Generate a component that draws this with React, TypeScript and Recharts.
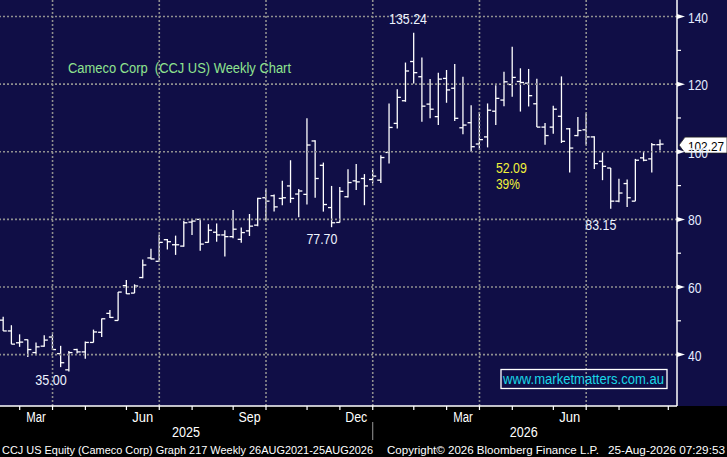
import React from 'react'
import { ComposedChart, Bar, XAxis, YAxis, ReferenceLine, ReferenceDot } from 'recharts'

// weekly OHLC, Feb 2025 -> Aug 2026
const opens = [
  50.2, 47.0, 43.5, 44.4, 40.6, 42.5, 45.2, 40.3, 35.5, 41.5, 40.8, 43.6, 46.6, 52.2, 50.1, 60.4, 58.2, 62.8, 68.6, 67.6,
  74.0, 72.5, 72.1, 79.2, 80.0, 73.2, 76.2, 75.4, 74.9, 74.1, 76.6, 78.3, 86.4, 87.0, 86.2, 89.9, 87.5, 87.4, 103.2, 96.0,
  83.5, 79.1, 86.7, 91.4, 92.1, 91.8, 91.6, 99.8, 108.4, 115.1, 126.7, 122.2, 114.1, 110.4, 121.7, 118.8, 107.1, 108.6, 102.3, 104.4,
  112.0, 115.3, 119.9, 120.8, 120.3, 114.2, 107.3, 107.3, 110.5, 106.8, 104.8, 106.5, 104.4, 97.2, 95.2, 85.4, 90.6, 85.4, 98.2, 97.9,
  102.1,
]
const highs = [
  51.2, 48.7, 46.0, 44.5, 43.6, 45.7, 46.0, 42.6, 41.1, 41.7, 43.9, 47.4, 50.7, 53.2, 58.5, 62.1, 60.8, 68.1, 71.3, 75.5,
  74.2, 75.2, 79.6, 79.8, 80.0, 78.6, 78.8, 76.8, 82.8, 77.6, 81.6, 86.4, 88.9, 87.4, 91.4, 97.5, 89.0, 109.9, 103.4, 96.8,
  89.9, 89.6, 94.8, 96.4, 93.4, 94.8, 99.0, 114.3, 118.5, 126.4, 135.24, 127.9, 121.5, 123.4, 124.2, 126.0, 122.2, 113.8, 111.8, 114.3,
  119.7, 123.7, 131.1, 124.7, 124.5, 121.6, 108.5, 113.6, 122.3, 107.0, 110.3, 111.4, 104.6, 99.8, 95.2, 92.0, 91.8, 97.9, 100.1, 102.6,
  103.6,
]
const lows = [
  47.0, 43.1, 42.3, 39.3, 39.8, 42.3, 41.5, 36.3, 35.0, 40.3, 38.8, 43.6, 45.2, 50.8, 50.1, 57.9, 58.2, 62.6, 68.1, 67.4,
  71.1, 69.5, 71.9, 75.4, 70.7, 73.1, 73.4, 69.0, 74.4, 73.1, 75.1, 78.0, 79.3, 82.3, 84.2, 84.9, 80.6, 84.4, 86.4, 82.3,
  77.7, 79.1, 86.5, 88.7, 84.2, 90.6, 90.8, 96.5, 106.9, 114.8, 120.2, 108.9, 109.9, 107.9, 114.5, 109.1, 105.2, 100.0, 101.0, 101.3,
  107.9, 113.5, 116.3, 111.9, 113.4, 107.3, 102.1, 105.3, 102.6, 93.9, 104.6, 102.1, 94.9, 91.6, 83.15, 85.1, 83.7, 85.4, 97.2, 93.9,
  100.4,
]
const closes = [
  47.0, 43.1, 43.7, 41.5, 42.3, 44.3, 41.5, 37.6, 40.6, 40.8, 43.6, 46.7, 50.6, 51.0, 58.5, 58.0, 60.3, 66.5, 68.3, 73.2,
  73.4, 72.5, 79.0, 79.5, 72.7, 76.8, 75.4, 74.9, 77.1, 76.1, 78.0, 86.2, 85.4, 83.7, 86.4, 86.2, 88.4, 102.0, 92.1, 84.4,
  79.0, 88.3, 90.9, 91.1, 89.9, 92.8, 98.3, 107.2, 116.1, 123.9, 123.4, 113.5, 112.6, 121.5, 118.3, 109.9, 107.9, 101.5, 103.6, 112.3,
  115.8, 120.7, 122.0, 120.5, 116.6, 107.3, 104.8, 112.6, 103.1, 101.1, 106.3, 104.4, 96.5, 95.7, 85.4, 87.8, 86.4, 97.5, 97.5, 102.1,
  102.27,
]

// time axis, in week index
const monthTicks = [2, 6, 10, 15, 19, 23, 28, 32, 37, 41, 45, 50, 54, 58, 62, 67, 71, 75, 81]
const monthLabels = [
  { at: 4, text: 'Mar' },
  { at: 17, text: 'Jun' },
  { at: 30, text: 'Sep' },
  { at: 43, text: 'Dec' },
  { at: 56, text: 'Mar' },
  { at: 69, text: 'Jun' },
]
const yearLabels = [
  { at: 22.25, text: '2025' },
  { at: 63.4, text: '2026' },
]
const yearBreak = 45
const quarterLines = [6, 19, 32, 45, 58, 71]

const priceGrid = [40, 60, 80, 100, 120, 140]
const priceTicks = [40, 50, 60, 70, 80, 90, 100, 110, 120, 130, 140]
const lastPrice = 102.27

// swing highs / lows
const callouts = [
  { i: 51, v: 135.24, text: '135.24' },
  { i: 41, v: 77.7, text: '77.70' },
  { i: 8, v: 35.0, text: '35.00' },
  { i: 74, v: 83.15, text: '83.15' },
]
const moveLabel = { i: 60, v: 100, lines: ['52.09', '39%'] }

const NAVY = '#100e46'
const GRID = '#8f8f8f'
const AXIS_TXT = '#e4ecff'
const SANS = "'Liberation Sans', Arial, sans-serif"

const calloutOffset: Record<string, [number, number]> = {
  '135.24': [-14, -9],
  '77.70': [-18, 17],
  '35.00': [-18, 13],
  '83.15': [-10, 21],
}
// rendered widths of the condensed Bloomberg face
const textWidth: Record<string, number> = {
  '135.24': 38, '77.70': 31, '35.00': 31.5, '83.15': 31, '52.09': 31, '39%': 24,
  Mar: 19.5, Jun: 21, Sep: 22, Dec: 22, '2025': 28, '2026': 28,
}

const rows = opens.map((o, i) => ({ i, open: o, high: highs[i], low: lows[i], close: closes[i] }))
const xMax = 82.06

function OhlcShape(props: any) {
  const { x, y, width, height, payload } = props
  const top = Math.min(y, y + height)
  const span = Math.abs(height)
  const cx = x + width / 2
  const { high, low, open, close } = payload
  const toY = (v: number) => (high === low ? top : top + (span * (high - v)) / (high - low))
  return (
    <g stroke="#fff" strokeWidth={1.3}>
      <line x1={cx} x2={cx} y1={top} y2={top + span} />
      <line x1={cx - 3.6} x2={cx} y1={toY(open)} y2={toY(open)} />
      <line x1={cx} x2={cx + 3.6} y1={toY(close)} y2={toY(close)} />
    </g>
  )
}

function TimeTick(props: any) {
  const { x, y, payload } = props
  const v = payload.value
  const month = monthLabels.find(m => m.at === v)
  const year = yearLabels.find(m => m.at === v)
  return (
    <g>
      {monthTicks.includes(v) && <line x1={x} x2={x} y1={y} y2={y + 4} stroke="#fff" strokeWidth={1.2} />}
      {v === yearBreak && <line x1={x} x2={x} y1={y + 16} y2={y + 34} stroke="#9a9a9a" strokeWidth={1} />}
      {month && (
        <text x={x} y={y + 15.5} textAnchor="middle" fill="#fff" fontSize={14} fontFamily={SANS}
          textLength={textWidth[month.text]} lengthAdjust="spacingAndGlyphs">
          {month.text}
        </text>
      )}
      {year && (
        <text x={x} y={y + 31} textAnchor="middle" fill="#fff" fontSize={14} fontFamily={SANS}
          textLength={textWidth[year.text]} lengthAdjust="spacingAndGlyphs">
          {year.text}
        </text>
      )}
    </g>
  )
}

function PriceTick(props: any) {
  const { x, y, payload } = props
  const v = payload.value
  if (v % 20 !== 0) return <line x1={x} x2={x + 4} y1={y} y2={y} stroke="#fff" strokeWidth={1.2} />
  return (
    <g>
      <path d={`M${x},${y - 2.5} L${x + 8},${y} L${x},${y + 2.5} Z`} fill="#fff" />
      <text x={x + 11} y={y + 6} fill={AXIS_TXT} fontSize={14} fontFamily={SANS}
        textLength={v >= 100 ? 20 : 13.5} lengthAdjust="spacingAndGlyphs">
        {v}
      </text>
    </g>
  )
}

function LastPriceTag(props: any) {
  const { cx, cy } = props
  const tip = cx + 2
  return (
    <g>
      <path
        d={`M${tip},${cy + 1} L${tip + 6},${cy - 7} L${tip + 48},${cy - 7} L${tip + 48},${cy + 9} L${tip + 6},${cy + 9} Z`}
        fill="#fff"
        stroke="#222"
        strokeWidth={0.8}
      />
      <text x={tip + 9} y={cy + 6.5} fill="#000" fontSize={13.5} fontFamily={SANS}
        textLength={36} lengthAdjust="spacingAndGlyphs">
        {lastPrice.toFixed(2)}
      </text>
    </g>
  )
}

export default function App() {
  return (
    <div style={{ position: 'fixed', left: 0, top: 0, width: 727, height: 457, background: '#000' }}>
      <div style={{ position: 'absolute', left: 0, top: 0, width: 727, height: 406, background: NAVY }} />
      <div style={{ position: 'absolute', left: 0, top: 0 }}>
        <ComposedChart width={727} height={457} data={rows} margin={{ top: 0, right: 0, bottom: 0, left: 0 }}>
          <XAxis
            dataKey="i"
            type="number"
            domain={[-0.4, xMax]}
            allowDataOverflow
            ticks={[...monthTicks, ...monthLabels.map(m => m.at), ...yearLabels.map(m => m.at)]}
            interval={0}
            height={51}
            tickLine={false}
            tickSize={0}
            tickMargin={0}
            axisLine={{ stroke: '#fff', strokeWidth: 1.5 }}
            tick={<TimeTick />}
          />
          <YAxis
            orientation="right"
            width={50}
            domain={[24.8, 144.9]}
            allowDataOverflow
            ticks={priceTicks}
            interval={0}
            tickLine={false}
            tickSize={0}
            tickMargin={0}
            axisLine={{ stroke: '#fff', strokeWidth: 1.5 }}
            tick={<PriceTick />}
          />
          {priceGrid.map(v => (
            <ReferenceLine key={'h' + v} y={v} stroke={GRID} strokeWidth={1.6} strokeDasharray="2 2" />
          ))}
          {quarterLines.map(v => (
            <ReferenceLine key={'v' + v} x={v} stroke={GRID} strokeWidth={1.6} strokeDasharray="2 2" />
          ))}
          <Bar
            dataKey={(d: any) => [d.low, d.high]}
            barSize={6}
            shape={<OhlcShape />}
            isAnimationActive={false}
          />
          {callouts.map(c => (
            <ReferenceDot
              key={c.text}
              x={c.i}
              y={c.v}
              r={0}
              shape={(p: any) => (
                <text
                  x={p.cx + calloutOffset[c.text][0]}
                  y={p.cy + calloutOffset[c.text][1]}
                  textAnchor="middle"
                  fill="#eef4ff"
                  fontSize={14.5}
                  fontFamily={SANS}
                  textLength={textWidth[c.text]}
                  lengthAdjust="spacingAndGlyphs"
                >
                  {c.text}
                </text>
              )}
            />
          ))}
          <ReferenceDot
            x={moveLabel.i}
            y={moveLabel.v}
            r={0}
            shape={(p: any) => (
              <g fill="#f2f23a" fontSize={14.5} fontFamily={SANS}>
                <text x={p.cx} y={p.cy + 21} textLength={textWidth[moveLabel.lines[0]]} lengthAdjust="spacingAndGlyphs">
                  {moveLabel.lines[0]}
                </text>
                <text x={p.cx} y={p.cy + 37.5} textLength={textWidth[moveLabel.lines[1]]} lengthAdjust="spacingAndGlyphs">
                  {moveLabel.lines[1]}
                </text>
              </g>
            )}
          />
          <ReferenceDot x={xMax} y={lastPrice} r={0} ifOverflow="visible" shape={<LastPriceTag />} />
        </ComposedChart>
      </div>
      <svg width={727} height={457} style={{ position: 'absolute', left: 0, top: 0, pointerEvents: 'none' }}>
        <text x={68} y={73} fill="#8fe38f" fontSize={14} fontFamily={SANS} textLength={223} lengthAdjust="spacingAndGlyphs" style={{ whiteSpace: 'pre' }}>
          Cameco Corp  (CCJ US) Weekly Chart
        </text>
        <rect x={501} y={369.5} width={166} height={19} fill="none" stroke="#fff" strokeWidth={1.3} />
        <text x={503} y={384} fill="#19d8e6" fontSize={14} fontFamily={SANS} textLength={161} lengthAdjust="spacingAndGlyphs">
          www.marketmatters.com.au
        </text>
        <g fill="#fff" fontSize={11.5} fontFamily={SANS}>
          <text x={2} y={453.5} textLength={371} lengthAdjust="spacingAndGlyphs">
            CCJ US Equity (Cameco Corp) Graph 217 Weekly 26AUG2021-25AUG2026
          </text>
          <text x={387} y={453.5} textLength={212} lengthAdjust="spacingAndGlyphs">
            Copyright© 2026 Bloomberg Finance L.P.
          </text>
          <text x={608} y={453.5} textLength={117} lengthAdjust="spacingAndGlyphs">
            25-Aug-2026 07:29:53
          </text>
        </g>
      </svg>
    </div>
  )
}
